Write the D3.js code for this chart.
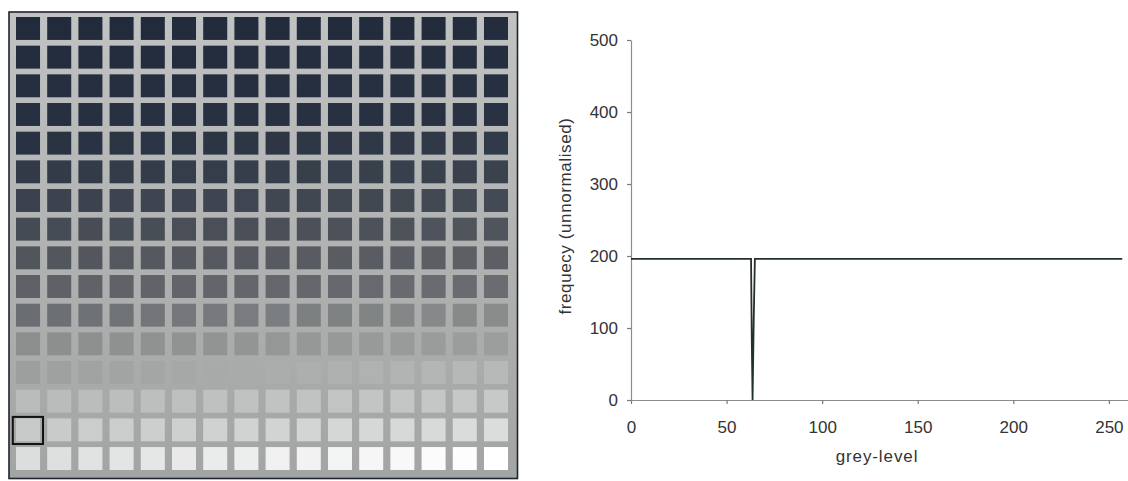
<!DOCTYPE html>
<html><head><meta charset="utf-8">
<script src="https://cdn.jsdelivr.net/npm/d3@7"></script>
<style>
body{margin:0;background:#fff;}
svg text{font-family:"Liberation Sans",Arial,Helvetica,sans-serif;fill:#333;}
</style>
</head><body>
<svg id="chart" width="1128" height="481"></svg>
<script>
// ---- left panel: 16 x 16 grey-level test pattern ----
const patternRows = [0,1,2,3,4,5,6,7,8,9,10,11,12,13,14,15];
const patternCols = [0,1,2,3,4,5,6,7,8,9,10,11,12,13,14,15];
const rowBaseLevel = [0,16,32,48,64,80,96,112,128,144,160,176,192,208,224,240];
const colLevelStep = [0,1,2,3,4,5,6,7,8,9,10,11,12,13,14,15];
// appearance of grey level in the scanned figure
const shadeLevels = [0, 64, 80, 96, 112, 128, 144, 160, 176, 192, 208, 224, 240, 255];
const shadeColors = ["#222b3b","#293242","#323a48","#3b424e","#454b54","#51555c","#5d6166","#6a6d71","#8c8e8e","#9d9f9e","#b9bbba","#c8cac9","#dcdedd","#ffffff"];
const markedCell = {row: 14, col: 0};

// ---- right panel: histogram ----
const greyLevel = [0, 62.8, 63.2, 63.6, 64.2, 64.8, 257];
const frequency = [196, 196, 80, 0, 110, 196, 196];
const xTicks = [0, 50, 100, 150, 200, 250];
const yTicks = [0, 100, 200, 300, 400, 500];

const svg = d3.select("#chart");

// left panel
const img = svg.append("g");
const defs = svg.append("defs");
const grad = defs.append("linearGradient").attr("id","bg").attr("x1",0).attr("x2",0).attr("y1",0).attr("y2",1);
grad.append("stop").attr("offset","0%").attr("stop-color","#c0c3c1");
grad.append("stop").attr("offset","55%").attr("stop-color","#afb1b0");
grad.append("stop").attr("offset","100%").attr("stop-color","#a3a5a4");

img.append("rect").attr("x",9).attr("y",12).attr("width",508.5).attr("height",466.5)
  .attr("fill","url(#bg)").attr("stroke","#1e2430").attr("stroke-width",1.6);

const cx = d3.scaleBand().domain(patternCols).range([16,508]).paddingInner(0.23).paddingOuter(0);
const cy = d3.scaleBand().domain(patternRows).range([17,470]).paddingInner(0.2).paddingOuter(0);
const shade = d3.scaleLinear().domain(shadeLevels).range(shadeColors);

const cells = [];
patternRows.forEach(r => patternCols.forEach(c => cells.push({r, c, g: rowBaseLevel[r] + colLevelStep[c]})));
img.selectAll("rect.cell").data(cells).join("rect").attr("class","cell")
  .attr("x", d => cx(d.c)).attr("y", d => cy(d.r))
  .attr("width", cx.bandwidth()).attr("height", cy.bandwidth())
  .attr("fill", d => shade(d.g));

img.append("rect")
  .attr("x", cx(markedCell.col) - 3.2).attr("y", cy(markedCell.row) - 1.5)
  .attr("width", cx.bandwidth() + 6.2).attr("height", cy.bandwidth() + 4.2)
  .attr("fill","none").attr("stroke","#111").attr("stroke-width",2);

// right panel
const x = d3.scaleLinear().domain([0,260]).range([631,1128]);
const y = d3.scaleLinear().domain([0,500]).range([400,40]);

const xAxis = svg.append("g").attr("transform","translate(0,400)")
  .call(d3.axisBottom(x).tickValues(xTicks).tickSize(4).tickSizeOuter(0).tickPadding(17));
const yAxis = svg.append("g").attr("transform","translate(631,0)")
  .call(d3.axisLeft(y).tickValues(yTicks).tickSize(4).tickSizeOuter(0).tickPadding(9));
[xAxis, yAxis].forEach(a => {
  a.select(".domain").attr("stroke","#8c8c8c").attr("stroke-width",1.2);
  a.selectAll(".tick line").attr("stroke","#7a7a7a").attr("stroke-width",1.2);
  a.selectAll(".tick text").attr("font-size",17).attr("fill","#333")
   .style("font-family",'"Liberation Sans",Arial,sans-serif');
});

const pts = greyLevel.map((g,i) => [g, frequency[i]]);
svg.append("path").datum(pts)
  .attr("d", d3.line().x(d => x(d[0])).y(d => y(d[1])))
  .attr("fill","none").attr("stroke","#25302b").attr("stroke-width",1.8);

svg.append("text").attr("x",877).attr("y",462).attr("text-anchor","middle")
  .attr("font-size",17).attr("letter-spacing","0.9px").text("grey-level");
svg.append("text").attr("transform","translate(571,216) rotate(-90)").attr("text-anchor","middle")
  .attr("font-size",17).attr("letter-spacing","0.6px").text("frequecy (unnormalised)");
</script>
</body></html>
